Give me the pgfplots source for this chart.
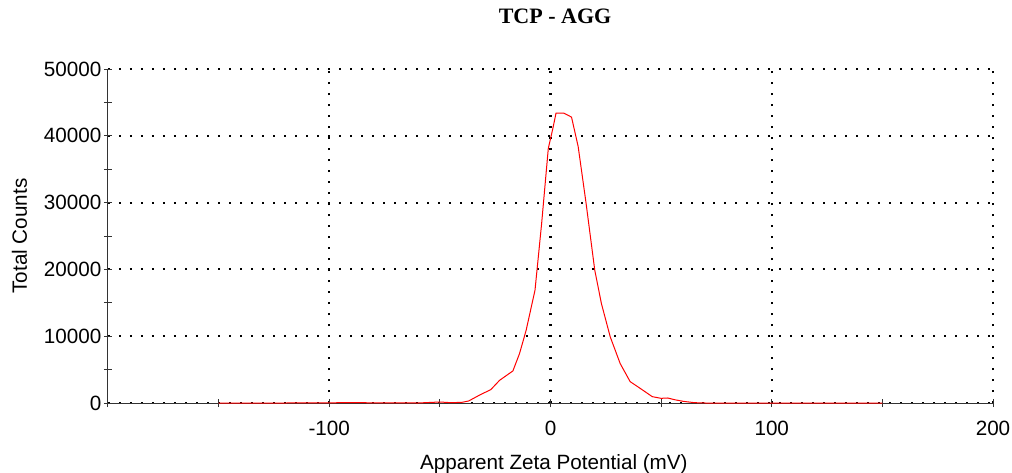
\documentclass[border=0pt]{standalone}
\usepackage{pgfplots}
\pgfplotsset{compat=1.18}
\usepackage{fontspec}
\setmainfont{Liberation Sans}
\newfontfamily\titlefont{Liberation Serif}

\pgfplotstableread{
x y
-150 0
-120 0
-90 50
-60 0
-50 150
-45 50
-40 100
-37 300
-32 1200
-27 2000
-23 3400
-17 4800
-14 7400
-11 10900
-7 16900
-4 26900
-1 38100
1 41000
2.5 43400
6 43400
9.5 42800
12.5 38400
16 30100
20 19900
23 14900
27 9900
31.5 5900
36 3200
40.5 2200
46 950
50 700
53 750
56 500
60 250
65 50
70 0
100 0
150 0
}\zeta

\begin{document}
\begin{tikzpicture}
\useasboundingbox (-81pt,-51.75pt) rectangle (678pt,302.25pt);
\begin{axis}[
  at={(0,0)}, anchor=south west,
  scale only axis, width=663.75pt, height=250.5pt,
  xmin=-200, xmax=200, ymin=0, ymax=50000,
  axis x line*=bottom, axis y line*=left,
  axis line style={black!80, line width=0.75pt},
  xtick={-100,0,100,200},
  minor xtick={-200,-150,-50,50,150},
  ytick={0,10000,20000,30000,40000,50000},
  minor ytick={5000,15000,25000,35000,45000},
  tick align=center,
  major tick length=6pt, minor tick length=6pt,
  tick style={black!80, line width=0.75pt},
  xmajorgrids, ymajorgrids,
  major grid style={black, line width=1.6pt, dash pattern=on 1.6pt off 6.65pt},
  scaled y ticks=false,
  /pgf/number format/.cd, fixed, 1000 sep={}, assume math mode=true,
  /pgfplots/.cd,
  tick label style={font=\fontsize{15.5}{18}\selectfont},
  xticklabel style={anchor=base, yshift=-21pt},
  yticklabel style={anchor=east, xshift=1.5pt},
  title={\titlefont\bfseries TCP - AGG},
  title style={at={([xshift=3.4pt,yshift=28pt]axis description cs:0.5,1)}, anchor=base, font=\fontsize{16.5}{19}\selectfont},
  xlabel={Apparent Zeta Potential (mV)},
  xlabel style={at={([xshift=2.5pt,yshift=-49.5pt]axis description cs:0.5,0)}, anchor=base, font=\fontsize{15.5}{18}\selectfont},
  ylabel={Total Counts},
  ylabel style={at={([xshift=-60.75pt]axis description cs:0,0.5)}, anchor=base, font=\fontsize{15.5}{18}\selectfont},
]
\addplot[red, line width=0.75pt] table[x=x, y=y] {\zeta};
\end{axis}
\end{tikzpicture}
\end{document}
